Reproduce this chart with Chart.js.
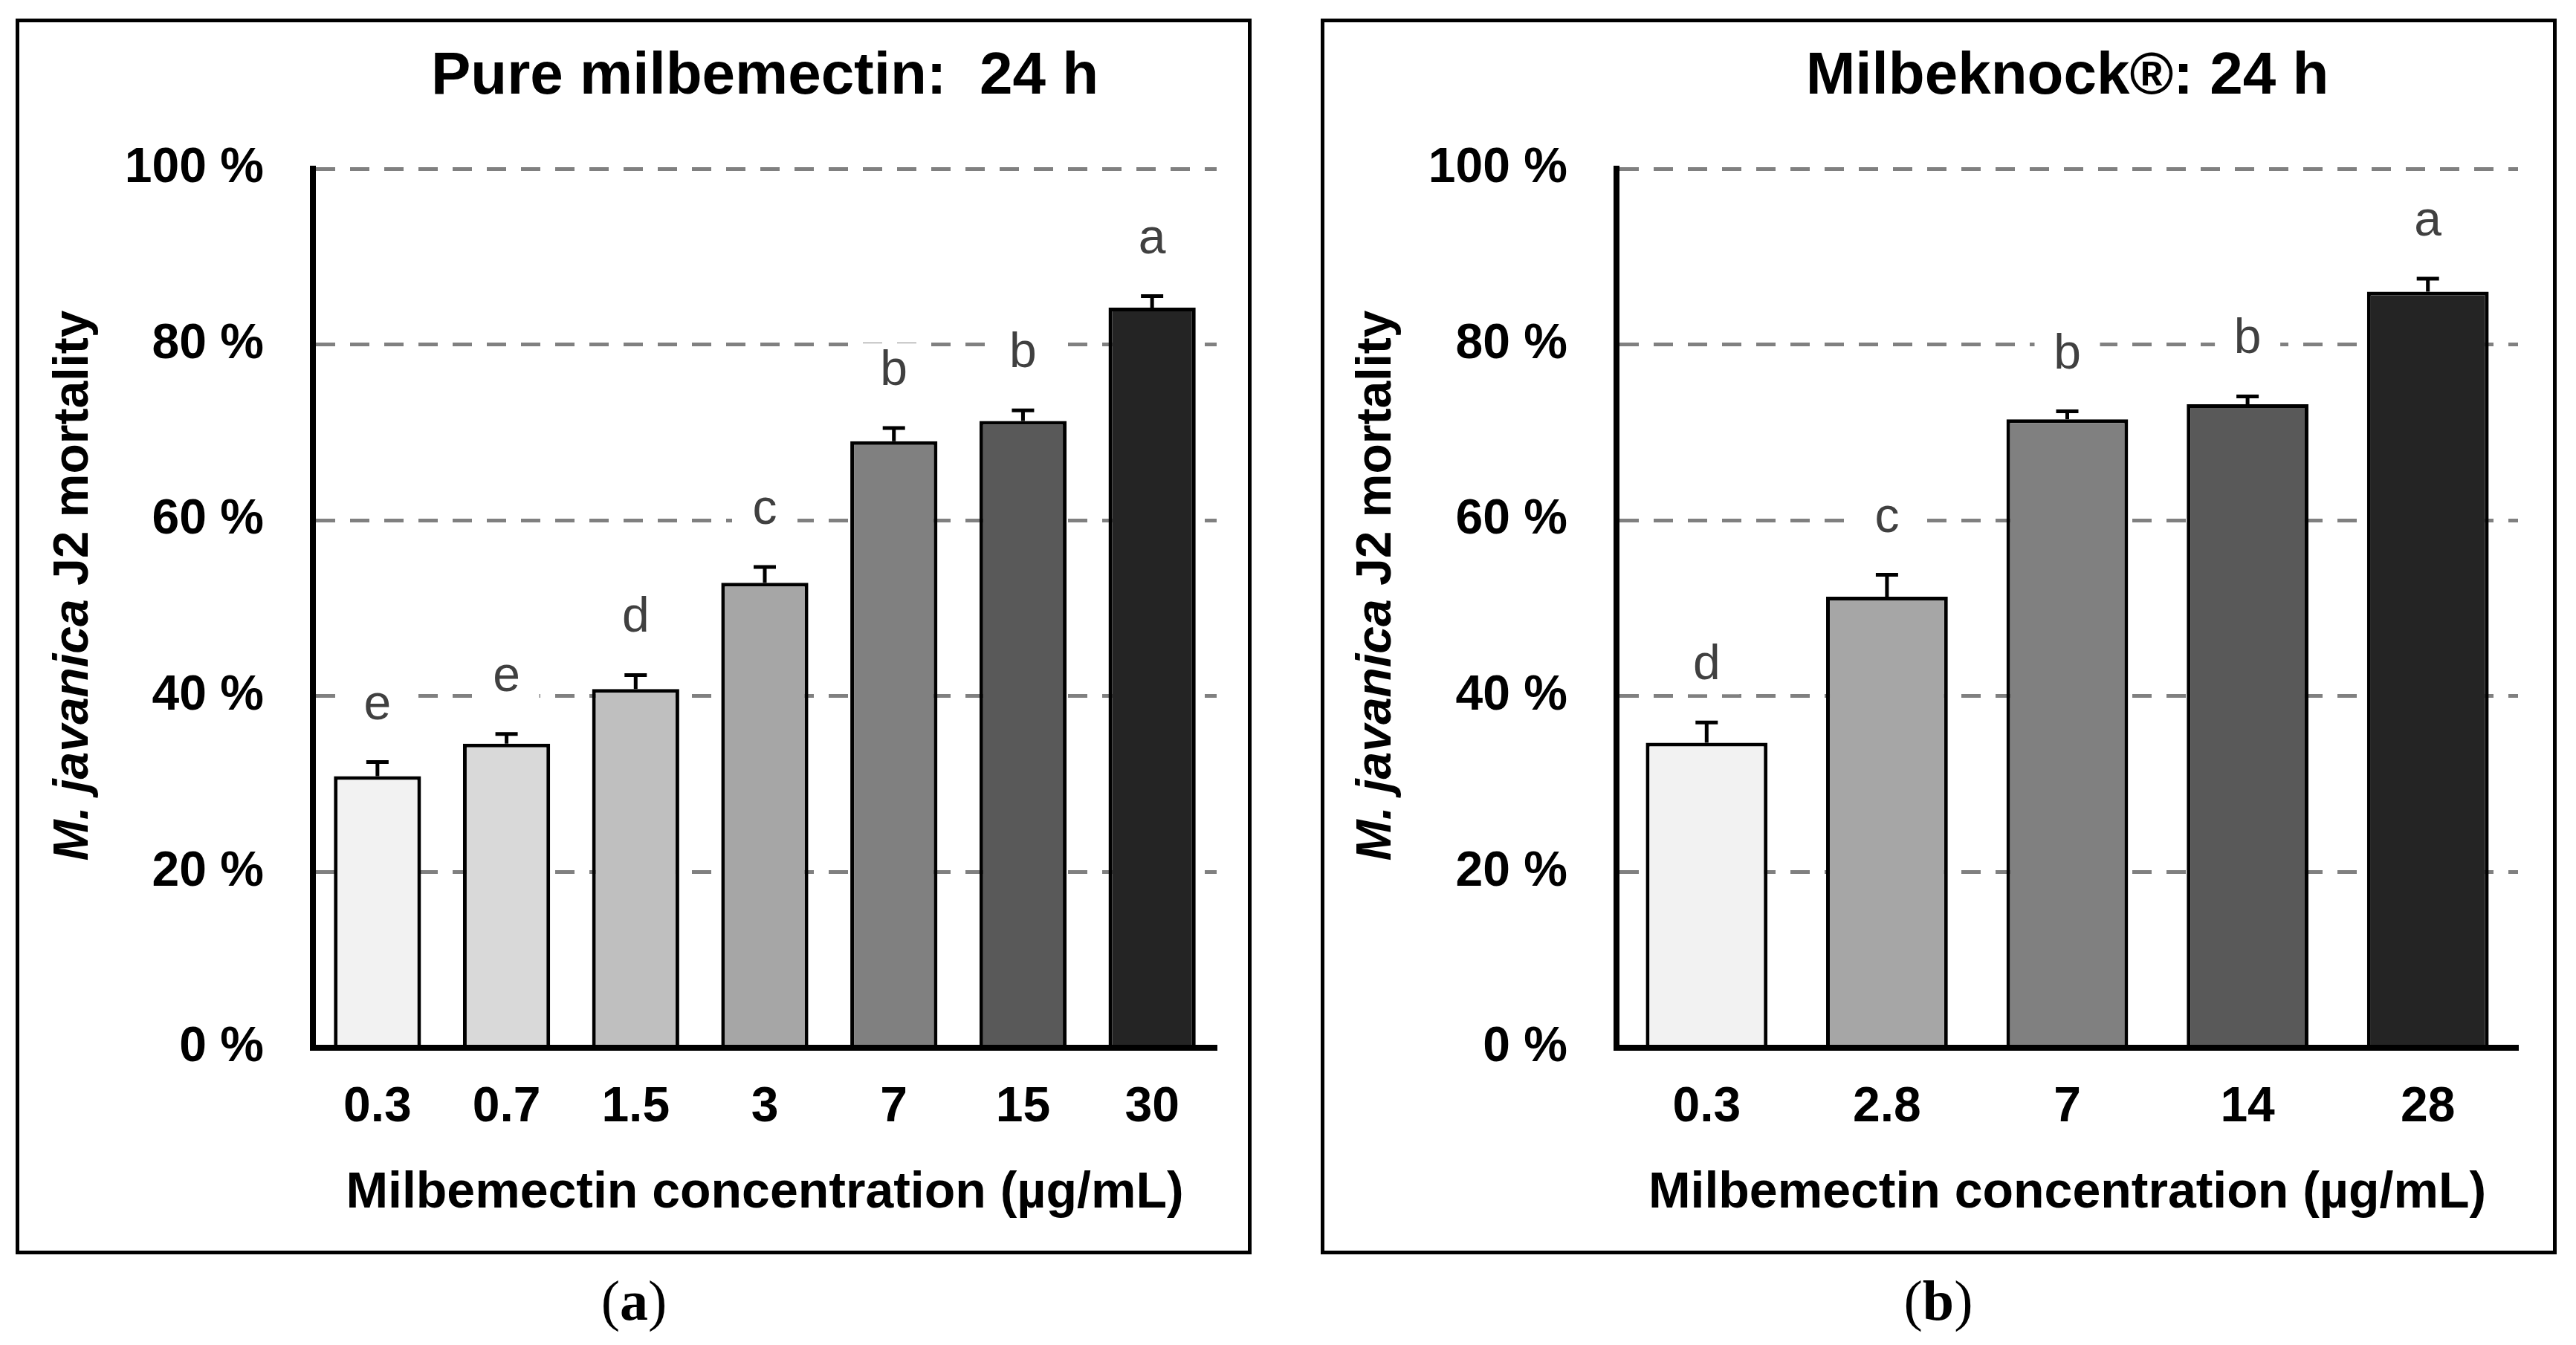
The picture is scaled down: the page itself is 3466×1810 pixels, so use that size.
<!DOCTYPE html>
<html>
<head>
<meta charset="utf-8">
<script src="https://cdn.jsdelivr.net/npm/chart.js@4.4.1/dist/chart.umd.min.js"></script>
<style>
    html, body { margin: 0; padding: 0; background: #fff; }
    body { width: 3466px; height: 1810px; position: relative; overflow: hidden; }
    .panel { position: absolute; top: 25px; width: 1663px; height: 1663px; box-sizing: border-box; border: 5px solid #000; background: #fff; }
    .panel canvas { display: block; }
    .caption { position: absolute; top: 1712px; width: 300px; text-align: center; font: 76px/76px "Liberation Serif", "Times New Roman", serif; color: #000; }
</style>
</head>
<body>
<div class="panel" style="left:21px"><canvas id="chartPure" width="1653" height="1653"></canvas></div>
<div class="panel" style="left:1777px"><canvas id="chartKnock" width="1653" height="1653"></canvas></div>
<div class="caption" style="left:703px">(<b>a</b>)</div>
<div class="caption" style="left:2458px">(<b>b</b>)</div>

<script>
// ===============================
// DATA
// ===============================

const yTicks = [0, 20, 40, 60, 80, 100];

// (a) pure milbemectin, 24 h
const pureLabels = ["0.3", "0.7", "1.5", "3", "7", "15", "30"];
const pureMortality = [30.9, 34.6, 40.8, 52.9, 69.0, 71.3, 84.2];
const pureError = [1.6, 1.1, 1.6, 1.8, 1.5, 1.2, 1.3];
const pureLetters = ["e", "e", "d", "c", "b", "b", "a"];

// (b) Milbeknock, 24 h
const knockLabels = ["0.3", "2.8", "7", "14", "28"];
const knockMortality = [34.7, 51.3, 71.5, 73.2, 86.0];
const knockError = [2.3, 2.5, 0.9, 0.9, 1.5];
const knockLetters = ["d", "c", "b", "b", "a"];

// bar fills (grey ramp)
const pureColors = ["#f2f2f2", "#d9d9d9", "#bfbfbf", "#a6a6a6", "#808080", "#595959", "#242424"];
const knockColors = ["#f2f2f2", "#a6a6a6", "#808080", "#595959", "#242424"];

const FONT = '"Liberation Sans", Arial, Helvetica, sans-serif';
Chart.defaults.font.family = FONT;
Chart.defaults.color = "#000";

// ===============================
// PLUGINS
// ===============================

// upper error bars + significance letters
function barExtrasPlugin(values, errors, letters) {
    return {
        id: "barExtras",
        afterDatasetsDraw(chart) {
            const ctx = chart.ctx;
            const y = chart.scales.y;
            chart.getDatasetMeta(0).data.forEach((bar, i) => {
                const top = y.getPixelForValue(values[i] + errors[i]);
                ctx.save();
                ctx.strokeStyle = "#000";
                ctx.lineWidth = 5;
                ctx.beginPath();
                ctx.moveTo(bar.x, bar.y);
                ctx.lineTo(bar.x, top);
                ctx.moveTo(bar.x - 15, top);
                ctx.lineTo(bar.x + 15, top);
                ctx.stroke();

                // letter sits in a white box that cuts the grid line
                const base = top - 58;
                ctx.fillStyle = "#fff";
                ctx.fillRect(bar.x - 44, base - 56, 88, 76);
                ctx.fillStyle = "#404040";
                ctx.font = "66px " + FONT;
                ctx.textAlign = "center";
                ctx.textBaseline = "alphabetic";
                ctx.fillText(letters[i], bar.x, base);
                ctx.restore();
            });
        }
    };
}

// y axis title with italic species name
function yTitlePlugin(x, yCenter) {
    return {
        id: "yTitle",
        afterDraw(chart) {
            const ctx = chart.ctx;
            const italic = "italic bold 66px " + FONT;
            const plain = "bold 66px " + FONT;
            const part1 = "M. javanica";
            const part2 = " J2 mortality";
            ctx.save();
            ctx.font = italic;
            const w1 = ctx.measureText(part1).width;
            ctx.font = plain;
            const w2 = ctx.measureText(part2).width;
            ctx.translate(x, yCenter);
            ctx.rotate(-Math.PI / 2);
            ctx.fillStyle = "#000";
            ctx.textAlign = "left";
            ctx.textBaseline = "alphabetic";
            const start = -(w1 + w2) / 2;
            ctx.font = italic;
            ctx.fillText(part1, start, 0);
            ctx.font = plain;
            ctx.fillText(part2, start + w1, 0);
            ctx.restore();
        }
    };
}

// ===============================
// CHARTS
// ===============================

function makeChart(id, title, labels, values, errors, letters, colors, layout) {
    const ctx = document.getElementById(id).getContext("2d");
    return new Chart(ctx, {
        type: "bar",
        data: {
            labels: labels,
            datasets: [{
                data: values,
                backgroundColor: colors,
                borderColor: "#000",
                borderWidth: 5,
                borderSkipped: "start",
                barPercentage: 0.675,
                categoryPercentage: 1.0
            }]
        },
        options: {
            responsive: false,
            animation: false,
            devicePixelRatio: 1,
            layout: { padding: { left: 0, right: layout.padRight, top: 0, bottom: 0 } },
            plugins: {
                legend: { display: false },
                tooltip: { enabled: false },
                title: {
                    display: true,
                    text: title,
                    fullSize: false,
                    color: "#000",
                    font: { size: 80, weight: "bold" },
                    padding: { top: 26, bottom: 75 }
                }
            },
            scales: {
                x: {
                    grid: { display: false, drawTicks: false },
                    border: { display: true, color: "#000", width: 8, z: 1 },
                    ticks: { color: "#000", font: { size: 66, weight: "bold" }, padding: 41, maxRotation: 0 },
                    title: {
                        display: true,
                        text: "Milbemectin concentration (µg/mL)",
                        color: "#000",
                        font: { size: 68, weight: "bold" },
                        padding: { top: 0, bottom: 36 }
                    },
                    afterFit: scale => { scale.height = 273; }
                },
                y: {
                    min: 0,
                    max: 100,
                    afterBuildTicks: scale => { scale.ticks = yTicks.map(v => ({ value: v })); },
                    grid: { color: "#808080", lineWidth: 5, drawTicks: false },
                    border: { display: true, color: "#000", width: 8, dash: [26, 20], z: 1 },
                    ticks: {
                        color: "#000",
                        font: { size: 66, weight: "bold" },
                        padding: 66,
                        callback: v => v + " %"
                    },
                    afterFit: scale => { scale.width = layout.plotLeft; }
                }
            }
        },
        plugins: [barExtrasPlugin(values, errors, letters), yTitlePlugin(layout.yTitleX, 758)]
    });
}

makeChart("chartPure", "Pure milbemectin:  24 h", pureLabels, pureMortality, pureError, pureLetters, pureColors,
    { plotLeft: 395, padRight: 42, yTitleX: 92 });

makeChart("chartKnock", "Milbeknock®: 24 h", knockLabels, knockMortality, knockError, knockLetters, knockColors,
    { plotLeft: 393, padRight: 47, yTitleX: 89 });
</script>
</body>
</html>
